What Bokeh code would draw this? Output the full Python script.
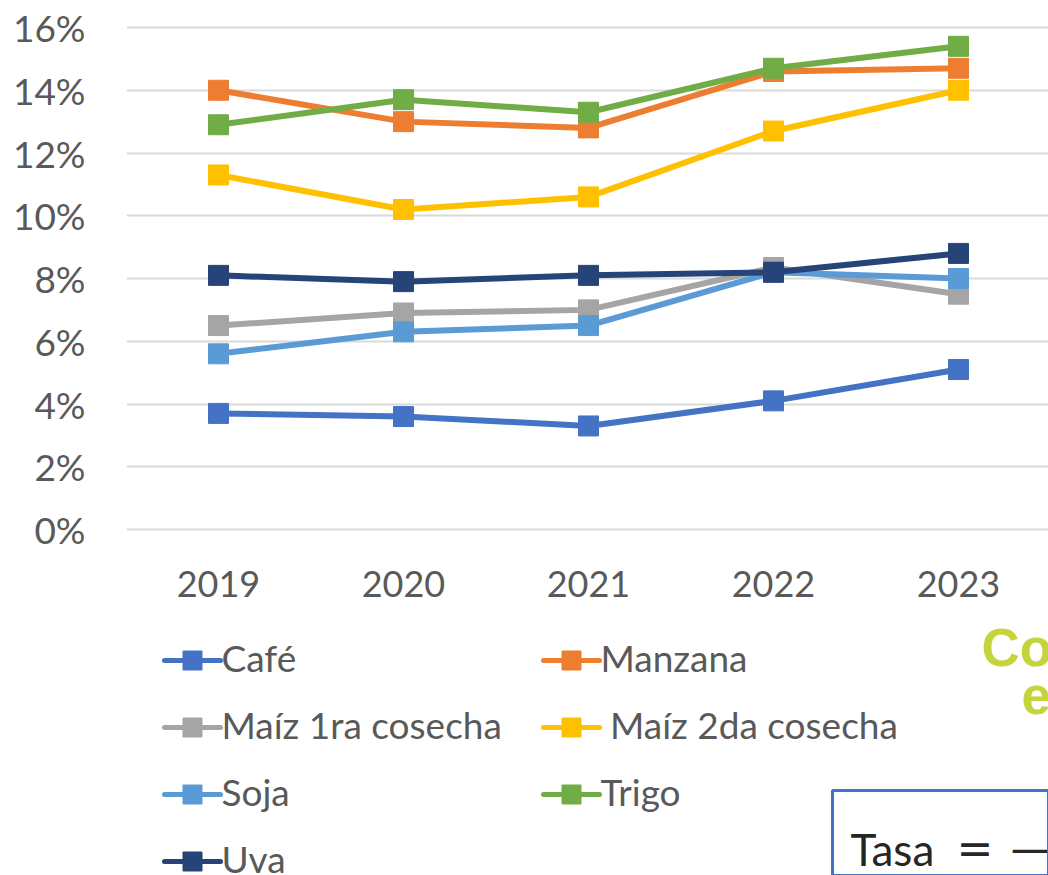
from bokeh.plotting import figure
from bokeh.models import Range1d, FixedTicker, PrintfTickFormatter, BoxAnnotation
from bokeh.core.properties import value
from bokeh.embed import file_html
from bokeh.resources import INLINE

# ---- data ----
years = [2019, 2020, 2021, 2022, 2023]
cafe = [3.7, 3.6, 3.3, 4.1, 5.1]
manzana = [14.0, 13.0, 12.8, 14.6, 14.7]
maiz1 = [6.5, 6.9, 7.0, 8.35, 7.5]
maiz2 = [11.3, 10.2, 10.6, 12.7, 14.0]
soja = [5.6, 6.3, 6.5, 8.2, 8.0]
trigo = [12.9, 13.7, 13.3, 14.7, 15.4]
uva = [8.1, 7.9, 8.1, 8.2, 8.8]
series_names = ["Café", "Manzana", "Maíz 1ra cosecha", "\u00a0Maíz 2da cosecha", "Soja", "Trigo", "Uva"]
y_ticks = [0, 2, 4, 6, 8, 10, 12, 14, 16]

series = [cafe, manzana, maiz1, maiz2, soja, trigo, uva]
colors = ["#4472C4", "#ED7D31", "#A5A5A5", "#FFC000", "#5B9BD5", "#70AD47", "#264478"]

# ---- layout (figure pixels -> data) ----
W, H = 1048, 875
FL, FT = 126, 0          # frame left/top
FR, FB = W, H            # frame right/bottom
X0PX, XSTEP = 218, 185   # 2019 centre, year spacing
Y0PX, YPP = 529, 31.375  # 0% line, px per 1%

def xd(px):
    return years[0] + (px - X0PX) / XSTEP

def yd(py):
    return (Y0PX - py) / YPP

p = figure(width=W, height=H, output_backend="svg", toolbar_location=None,
           x_range=Range1d(xd(FL), xd(FR)), y_range=Range1d(yd(FB), yd(FT)),
           min_border_left=FL, min_border_right=0, min_border_top=0, min_border_bottom=0)
p.outline_line_color = None
p.background_fill_color = "white"

FONT = "Lato"
TXT = "#595959"

# axes
p.xaxis.ticker = FixedTicker(ticks=years)
p.xaxis.fixed_location = 0
p.xaxis.axis_line_color = None
p.xaxis.major_tick_line_color = None
p.xaxis.minor_tick_line_color = None
p.xaxis.major_label_text_font = FONT
p.xaxis.major_label_text_font_size = "36px"
p.xaxis.major_label_text_color = TXT
p.xaxis.major_label_standoff = 35

p.yaxis.ticker = FixedTicker(ticks=y_ticks)
p.yaxis.formatter = PrintfTickFormatter(format="%d%%")
p.yaxis.axis_line_color = None
p.yaxis.major_tick_line_color = None
p.yaxis.minor_tick_line_color = None
p.yaxis.major_label_text_font = FONT
p.yaxis.major_label_text_font_size = "37px"
p.yaxis.major_label_text_color = TXT
p.yaxis.major_label_standoff = 35

p.xgrid.grid_line_color = None
p.ygrid.grid_line_color = "#D9D9D9"
p.ygrid.grid_line_width = 2

# series
for vals, col in zip(series, colors):
    p.line(years, vals, line_color=col, line_width=6)
    p.scatter(years, vals, marker="square", size=20, fill_color=col, line_color=col)

# legend (manual, Excel style 2 columns)
col_x = [164, 543]
row_y = [660, 727, 794, 861]
TXT_SHIFT = 15  # glyph text reference point vs. visual baseline
for i, (name, col) in enumerate(zip(series_names, colors)):
    cx = col_x[i % 2]
    ry = row_y[i // 2]
    p.segment(x0=[xd(cx)], y0=[yd(ry)], x1=[xd(cx + 56)], y1=[yd(ry)],
              line_color=col, line_width=5, line_cap="round")
    p.scatter([xd(cx + 28)], [yd(ry)], marker="square", size=19, fill_color=col, line_color=col)
    p.text([xd(cx + 57)], [yd(ry + 12 - TXT_SHIFT)], text=[name], text_font=value(FONT),
           text_font_size="37px", text_color=TXT, text_baseline="alphabetic", text_align="left")

# partial slide content at the right
p.text([xd(981)], [yd(667 - 20)], text=["Co"], text_font=value("Liberation Sans"),
       text_font_style="bold", text_font_size="53px", text_color="#C5D33D",
       text_baseline="alphabetic", text_align="left")
p.text([xd(1021)], [yd(713 - 18)], text=["e"], text_font=value("Liberation Sans"),
       text_font_style="bold", text_font_size="53px", text_color="#C5D33D",
       text_baseline="alphabetic", text_align="left")

p.add_layout(BoxAnnotation(left=xd(832), top=yd(790), fill_color=None, fill_alpha=0,
                           line_color="#4472C4", line_alpha=1.0, line_width=3))
p.text([xd(850)], [yd(863 - 15)], text=["Tasa"], text_font=value(FONT),
       text_font_size="44px", text_color="#262626", text_baseline="alphabetic", text_align="left")
p.text([xd(956)], [yd(863 - 15)], text=["="], text_font=value("DejaVu Sans"),
       text_font_size="44px", text_color="#262626", text_baseline="alphabetic", text_align="left")
p.text([xd(1010)], [yd(863 - 15)], text=["—"], text_font=value("DejaVu Sans"),
       text_font_size="44px", text_color="#262626", text_baseline="alphabetic", text_align="left")

open("out.html", "w").write(file_html(p, INLINE))
